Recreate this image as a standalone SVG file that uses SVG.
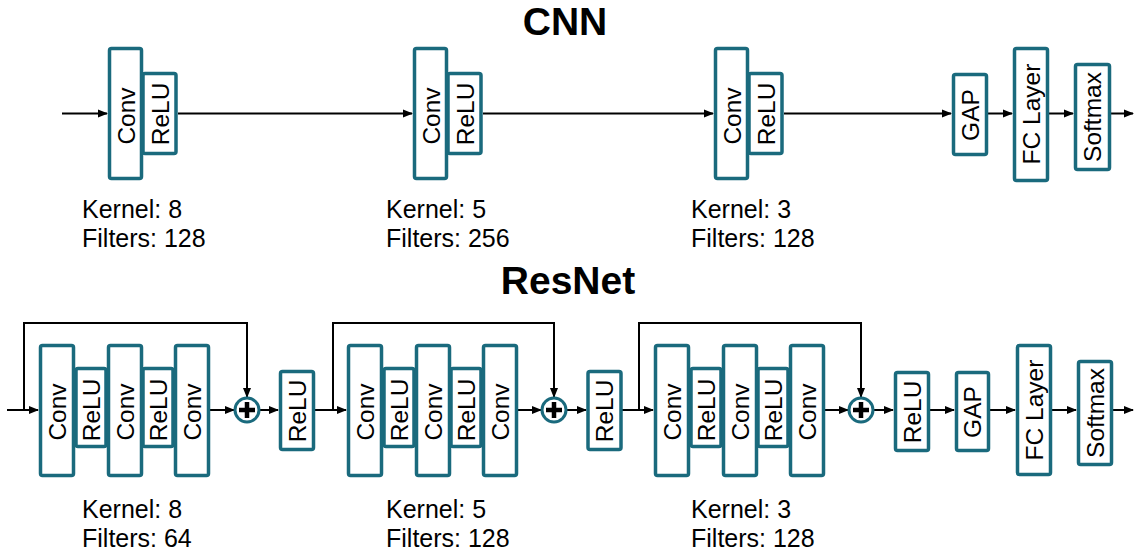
<svg xmlns="http://www.w3.org/2000/svg" width="1134" height="551" viewBox="0 0 1134 551">
<defs>
<style>
.b{fill:#fff;stroke:#1a6a7d;stroke-width:3.5}
.t{font-family:"Liberation Sans",Arial,sans-serif;font-size:24.5px;fill:#000;text-anchor:middle;dominant-baseline:central}
.k{font-family:"Liberation Sans",Arial,sans-serif;font-size:25px;fill:#000}
.h{font-family:"Liberation Sans",Arial,sans-serif;font-size:39px;font-weight:bold;fill:#000;text-anchor:middle}
.l{fill:none;stroke:#000;stroke-width:2}
.c{fill:#fff;stroke:#1a6a7d;stroke-width:3}
.p{stroke:#000;stroke-width:4.5}
</style>
<marker id="a" markerUnits="userSpaceOnUse" markerWidth="10" markerHeight="10" refX="9" refY="5" orient="auto">
<path d="M0,1 L10,5 L0,9 z" fill="#000"/>
</marker>
</defs>

<text class="h" x="565" y="35">CNN</text>
<text class="h" x="568" y="294">ResNet</text>

<g id="connectors">
<line class="l" x1="62" y1="113.5" x2="107" y2="113.5" marker-end="url(#a)"/>
<line class="l" x1="178" y1="113.5" x2="412" y2="113.5" marker-end="url(#a)"/>
<line class="l" x1="483" y1="113.5" x2="713" y2="113.5" marker-end="url(#a)"/>
<line class="l" x1="784" y1="113.5" x2="951" y2="113.5" marker-end="url(#a)"/>
<line class="l" x1="988" y1="113.5" x2="1012" y2="113.5" marker-end="url(#a)"/>
<line class="l" x1="1049" y1="113.5" x2="1073" y2="113.5" marker-end="url(#a)"/>
<line class="l" x1="1111" y1="113.5" x2="1133" y2="113.5" marker-end="url(#a)"/>
<line class="l" x1="7" y1="410" x2="38" y2="410" marker-end="url(#a)"/>
<polyline class="l" points="24,410 24,323 247,323 247,397" marker-end="url(#a)"/>
<line class="l" x1="210" y1="410" x2="234" y2="410" marker-end="url(#a)"/>
<line class="l" x1="260" y1="410" x2="278" y2="410" marker-end="url(#a)"/>
<line class="l" x1="315" y1="410" x2="346" y2="410" marker-end="url(#a)"/>
<polyline class="l" points="333,410 333,323 554,323 554,397" marker-end="url(#a)"/>
<line class="l" x1="517" y1="410" x2="541" y2="410" marker-end="url(#a)"/>
<line class="l" x1="567" y1="410" x2="586" y2="410" marker-end="url(#a)"/>
<line class="l" x1="622" y1="410" x2="653" y2="410" marker-end="url(#a)"/>
<polyline class="l" points="639,410 639,323 861,323 861,397" marker-end="url(#a)"/>
<line class="l" x1="823" y1="410" x2="848" y2="410" marker-end="url(#a)"/>
<line class="l" x1="874" y1="410" x2="893" y2="410" marker-end="url(#a)"/>
<line class="l" x1="930" y1="410" x2="954" y2="410" marker-end="url(#a)"/>
<line class="l" x1="990" y1="410" x2="1015" y2="410" marker-end="url(#a)"/>
<line class="l" x1="1052" y1="410" x2="1076" y2="410" marker-end="url(#a)"/>
<line class="l" x1="1113" y1="410" x2="1133" y2="410" marker-end="url(#a)"/>
</g>

<g id="cnn-block1">
<rect class="b" x="143" y="73.5" width="33" height="80" rx="2"/>
<rect class="b" x="109.5" y="48.5" width="32" height="130" rx="2"/>
<text class="t" transform="translate(126,116) rotate(-90)">Conv</text>
<text class="t" transform="translate(160,114) rotate(-90)">ReLU</text>
<text class="k" x="82" y="218">Kernel: 8</text>
<text class="k" x="82" y="247">Filters: 128</text>
</g>
<g id="cnn-block2" transform="translate(305,0)">
<rect class="b" x="143" y="73.5" width="33" height="80" rx="2"/>
<rect class="b" x="109.5" y="48.5" width="32" height="130" rx="2"/>
<text class="t" transform="translate(126,116) rotate(-90)">Conv</text>
<text class="t" transform="translate(160,114) rotate(-90)">ReLU</text>
<text class="k" x="81" y="218">Kernel: 5</text>
<text class="k" x="81" y="247">Filters: 256</text>
</g>
<g id="cnn-block3" transform="translate(606,0)">
<rect class="b" x="143" y="73.5" width="33" height="80" rx="2"/>
<rect class="b" x="109.5" y="48.5" width="32" height="130" rx="2"/>
<text class="t" transform="translate(126,116) rotate(-90)">Conv</text>
<text class="t" transform="translate(160,114) rotate(-90)">ReLU</text>
<text class="k" x="85" y="218">Kernel: 3</text>
<text class="k" x="85" y="247">Filters: 128</text>
</g>
<g id="cnn-gap">
<rect class="b" x="953.5" y="74.5" width="33" height="80" rx="2"/>
<text class="t" transform="translate(970,115) rotate(-90)">GAP</text>
</g>
<g id="cnn-fc">
<rect class="b" x="1014.5" y="48.5" width="33" height="132" rx="2"/>
<text class="t" transform="translate(1031,114) rotate(-90)">FC Layer</text>
</g>
<g id="cnn-softmax">
<rect class="b" x="1075.5" y="64.5" width="34" height="105" rx="2"/>
<text class="t" transform="translate(1092.5,117) rotate(-90)">Softmax</text>
</g>

<g id="res-block1">
<rect class="b" x="76" y="368.5" width="30" height="78" rx="2"/>
<rect class="b" x="143" y="368.5" width="30" height="78" rx="2"/>
<rect class="b" x="40.5" y="345.5" width="33" height="130" rx="2"/>
<rect class="b" x="108.5" y="345.5" width="33" height="130" rx="2"/>
<rect class="b" x="175.5" y="345.5" width="33" height="130" rx="2"/>
<text class="t" transform="translate(57.5,412) rotate(-90)">Conv</text>
<text class="t" transform="translate(91,410) rotate(-90)">ReLU</text>
<text class="t" transform="translate(125,412) rotate(-90)">Conv</text>
<text class="t" transform="translate(158,410) rotate(-90)">ReLU</text>
<text class="t" transform="translate(192,412) rotate(-90)">Conv</text>
<text class="k" x="82" y="518">Kernel: 8</text>
<text class="k" x="82" y="547">Filters: 64</text>
</g>
<g id="res-block2" transform="translate(308,0)">
<rect class="b" x="76" y="368.5" width="30" height="78" rx="2"/>
<rect class="b" x="143" y="368.5" width="30" height="78" rx="2"/>
<rect class="b" x="40.5" y="345.5" width="33" height="130" rx="2"/>
<rect class="b" x="108.5" y="345.5" width="33" height="130" rx="2"/>
<rect class="b" x="175.5" y="345.5" width="33" height="130" rx="2"/>
<text class="t" transform="translate(57.5,412) rotate(-90)">Conv</text>
<text class="t" transform="translate(91,410) rotate(-90)">ReLU</text>
<text class="t" transform="translate(125,412) rotate(-90)">Conv</text>
<text class="t" transform="translate(158,410) rotate(-90)">ReLU</text>
<text class="t" transform="translate(192,412) rotate(-90)">Conv</text>
<text class="k" x="78" y="518">Kernel: 5</text>
<text class="k" x="78" y="547">Filters: 128</text>
</g>
<g id="res-block3" transform="translate(615,0)">
<rect class="b" x="76" y="368.5" width="30" height="78" rx="2"/>
<rect class="b" x="143" y="368.5" width="30" height="78" rx="2"/>
<rect class="b" x="40.5" y="345.5" width="33" height="130" rx="2"/>
<rect class="b" x="108.5" y="345.5" width="33" height="130" rx="2"/>
<rect class="b" x="175.5" y="345.5" width="33" height="130" rx="2"/>
<text class="t" transform="translate(57.5,412) rotate(-90)">Conv</text>
<text class="t" transform="translate(91,410) rotate(-90)">ReLU</text>
<text class="t" transform="translate(125,412) rotate(-90)">Conv</text>
<text class="t" transform="translate(158,410) rotate(-90)">ReLU</text>
<text class="t" transform="translate(192,412) rotate(-90)">Conv</text>
<text class="k" x="76" y="518">Kernel: 3</text>
<text class="k" x="76" y="547">Filters: 128</text>
</g>

<g id="add1">
<circle class="c" cx="247" cy="410" r="12"/>
<path class="p" d="M247,402 V418 M239,410 H255"/>
</g>
<g id="add2">
<circle class="c" cx="554" cy="410" r="12"/>
<path class="p" d="M554,402 V418 M546,410 H562"/>
</g>
<g id="add3">
<circle class="c" cx="861" cy="410" r="12"/>
<path class="p" d="M861,402 V418 M853,410 H869"/>
</g>

<g id="res-relu1">
<rect class="b" x="280.5" y="371.5" width="33" height="78" rx="2"/>
<text class="t" transform="translate(297,411) rotate(-90)">ReLU</text>
</g>
<g id="res-relu2">
<rect class="b" x="588" y="371.5" width="33" height="78" rx="2"/>
<text class="t" transform="translate(604.5,411) rotate(-90)">ReLU</text>
</g>
<g id="res-relu3">
<rect class="b" x="895.5" y="372.5" width="33" height="78" rx="2"/>
<text class="t" transform="translate(912,412) rotate(-90)">ReLU</text>
</g>
<g id="res-gap">
<rect class="b" x="956.5" y="372.5" width="32" height="78" rx="2"/>
<text class="t" transform="translate(972.5,412) rotate(-90)">GAP</text>
</g>
<g id="res-fc">
<rect class="b" x="1017.5" y="345.5" width="33" height="129" rx="2"/>
<text class="t" transform="translate(1034,410) rotate(-90)">FC Layer</text>
</g>
<g id="res-softmax">
<rect class="b" x="1078.5" y="361.5" width="33" height="103" rx="2"/>
<text class="t" transform="translate(1095,413) rotate(-90)">Softmax</text>
</g>
</svg>
